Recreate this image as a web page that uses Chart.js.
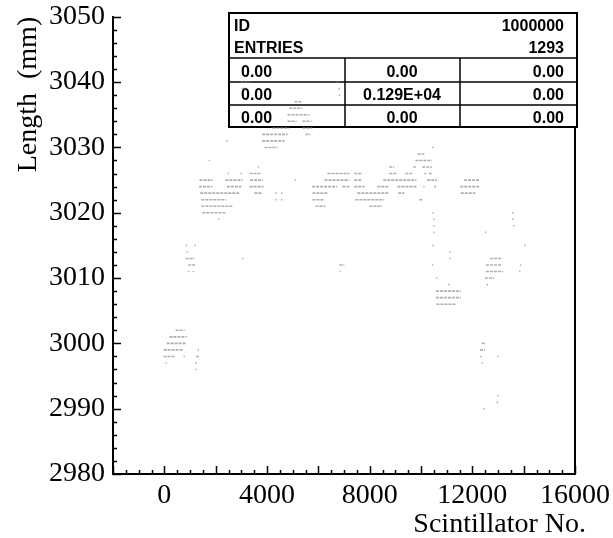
<!DOCTYPE html>
<html>
<head>
<meta charset="utf-8">
<script src="https://cdn.jsdelivr.net/npm/chart.js@4"></script>
<style>
  body { margin: 0; background: #fff; }
  #wrap { width: 613px; height: 538px; }
</style>
</head>
<body>
<div id="wrap"><canvas id="lengthChart" width="613" height="538"></canvas></div>
<script>
// each dash: [length (mm), scintillator from, scintillator to]
const upperDashes = [
  [3040, 2970, 3350], [3040, 6700, 6780],
  [3039, 3010, 3200], [3039, 6780, 6840],
  [3038, 6800, 6850],
  [3037, 5070, 5340],
  [3036, 4870, 5380],
  [3035, 4800, 5650],
  [3034, 4800, 5150], [3034, 5380, 5730],
  [3033, 4210, 4870], [3033, 5380, 5770],
  [3032, 3810, 4800], [3032, 5500, 5690],
  [3031, 2410, 2460], [3031, 3810, 4680],
  [3030, 3900, 4410], [3030, 10430, 10490],
  [3029, 9870, 10130],
  [3028, 1730, 1780], [3028, 9780, 10430],
  [3027, 3640, 3690], [3027, 8760, 8960], [3027, 9700, 9800], [3027, 10050, 10430]
];

const bandDashes = [
  [3026, 2470, 2520], [3026, 2970, 3020], [3026, 3320, 3770], [3026, 6350, 7210],
  [3026, 7400, 7710], [3026, 8760, 9080], [3026, 9390, 9650], [3026, 10130, 10200], [3026, 10300, 10430],
  [3025, 1370, 1890], [3025, 2380, 3050], [3025, 3340, 3840], [3025, 5070, 5120], [3025, 6240, 7210],
  [3025, 7400, 7710], [3025, 8530, 9820], [3025, 10240, 10620], [3025, 11680, 12290],
  [3024, 1350, 1870], [3024, 2440, 3000], [3024, 3320, 3860], [3024, 5760, 6740], [3024, 6940, 7210],
  [3024, 7400, 7800], [3024, 8300, 8760], [3024, 9080, 9860], [3024, 10090, 10140], [3024, 10520, 10590],
  [3024, 11530, 12310],
  [3023, 1400, 2930], [3023, 3510, 3820], [3023, 4330, 4380], [3023, 4550, 4600], [3023, 5770, 6350],
  [3023, 7520, 8760], [3023, 9110, 9350], [3023, 11550, 12110],
  [3022, 1440, 2410], [3022, 4330, 4380], [3022, 4550, 4600], [3022, 5770, 6240], [3022, 7440, 8570],
  [3022, 9930, 10060],
  [3021, 1440, 2650], [3021, 5890, 6280], [3021, 7990, 8490],
  [3020, 1480, 2390], [3020, 10440, 10490], [3020, 13550, 13610],
  [3019, 2090, 2140], [3019, 10480, 10530], [3019, 13550, 13610]
];

const leftDashes = [
  [3015, 830, 880], [3015, 1180, 1230],
  [3014, 870, 920],
  [3013, 830, 1180], [3013, 3030, 3080],
  [3012, 930, 1200], [3012, 6820, 7010],
  [3011, 920, 970], [3011, 1100, 1150], [3011, 6820, 6870],
  [3002, 440, 790],
  [3001, 200, 870],
  [3000, 90, 870],
  [2999, -30, 750], [2999, 1300, 1350],
  [2998, -30, 400], [2998, 750, 800], [2998, 1230, 1380],
  [2997, 50, 100], [2997, 1200, 1260],
  [2996, 1220, 1270]
];

const rightDashes = [
  [3018, 10480, 10530], [3018, 13590, 13640],
  [3017, 10480, 10530], [3017, 12490, 12540],
  [3015, 10440, 10490], [3015, 14020, 14070],
  [3014, 11100, 11150],
  [3013, 11100, 11150], [3013, 12690, 13170],
  [3012, 10430, 10480], [3012, 12530, 13160], [3012, 13850, 13900],
  [3011, 12530, 13200], [3011, 13820, 13870],
  [3010, 10590, 10640], [3010, 12490, 12850],
  [3009, 11060, 11110], [3009, 12560, 12610],
  [3008, 10580, 11550],
  [3007, 10580, 11550],
  [3006, 10600, 11360],
  [3000, 12370, 12530],
  [2999, 12300, 12490],
  [2998, 12290, 12360], [2998, 12970, 13020],
  [2997, 12360, 12410],
  [2992, 12970, 13020],
  [2991, 12950, 13000],
  [2990, 12430, 12480]
];

const xTickLabels = [0, 4000, 8000, 12000, 16000];
const yTickLabels = [2980, 2990, 3000, 3010, 3020, 3030, 3040, 3050];
const xTitle = "Scintillator No.";

const statsHeader = [["ID", "1000000"], ["ENTRIES", "1293"]];
const statsGrid = [
  ["0.00", "0.00", "0.00"],
  ["0.00", "0.129E+04", "0.00"],
  ["0.00", "0.00", "0.00"]
];

// turn dashes into line points with gaps between them
function toPoints(dashes) {
  const pts = [];
  dashes.forEach(d => {
    pts.push({ x: d[1], y: d[0] });
    pts.push({ x: d[2], y: d[0] });
    pts.push({ x: d[2], y: NaN });
  });
  return pts;
}

function dashSet(dashes) {
  return {
    data: toPoints(dashes),
    showLine: true,
    spanGaps: false,
    borderColor: "rgba(120,120,120,0.6)",
    borderWidth: 1.6,
    borderDash: [3, 1],
    pointRadius: 0,
    pointHoverRadius: 0
  };
}

const serif = "'Liberation Serif', 'Times New Roman', serif";

// PAW-like frame: ticks inside the plot, right border, stats box
const pawFrame = {
  id: "pawFrame",
  beforeDatasetsDraw(chart) {
    const ctx = chart.ctx;
    ctx.save();
    ctx.fillStyle = "#fff";
    ctx.fillRect(229, 13, 348, 114);
    ctx.strokeStyle = "#000";
    ctx.lineWidth = 2;
    ctx.strokeRect(229, 13, 348, 114);
    ctx.lineWidth = 1.5;
    [58, 82, 105].forEach(yy => {
      ctx.beginPath(); ctx.moveTo(229, yy); ctx.lineTo(577, yy); ctx.stroke();
    });
    [345, 460].forEach(xx => {
      ctx.beginPath(); ctx.moveTo(xx, 58); ctx.lineTo(xx, 127); ctx.stroke();
    });
    ctx.fillStyle = "#000";
    ctx.font = "bold 16px 'Liberation Sans', Arial, sans-serif";
    ctx.textBaseline = "alphabetic";
    statsHeader.forEach((row, i) => {
      const base = 31 + i * 22;
      ctx.textAlign = "left";
      ctx.fillText(row[0], 234, base);
      ctx.textAlign = "right";
      ctx.fillText(row[1], 564, base);
    });
    statsGrid.forEach((row, i) => {
      const base = 77 + i * 23;
      ctx.textAlign = "left";
      ctx.fillText(row[0], 241, base);
      ctx.textAlign = "center";
      ctx.fillText(row[1], 402, base);
      ctx.textAlign = "right";
      ctx.fillText(row[2], 564, base);
    });
    ctx.restore();
  },
  afterDraw(chart) {
    const { ctx, chartArea: a, scales } = chart;
    ctx.save();
    ctx.strokeStyle = "#000";
    ctx.lineWidth = 1.5;
    for (let v = 2980; v <= 3050; v += 2) {
      const py = Math.round(scales.y.getPixelForValue(v)) + 0.5;
      const len = v % 10 === 0 ? 8 : 4;
      ctx.beginPath(); ctx.moveTo(a.left, py); ctx.lineTo(a.left + len, py); ctx.stroke();
    }
    for (let v = -2000; v <= 16000; v += 500) {
      const px = Math.round(scales.x.getPixelForValue(v)) + 0.5;
      const len = v % 2000 === 0 ? 8 : 4;
      ctx.beginPath(); ctx.moveTo(px, a.bottom); ctx.lineTo(px, a.bottom - len); ctx.stroke();
    }
    ctx.lineWidth = 2;
    ctx.beginPath(); ctx.moveTo(a.right, 127); ctx.lineTo(a.right, a.bottom); ctx.stroke();
    // x axis title, right-aligned a little past the axis end as in the original
    ctx.fillStyle = "#000";
    ctx.font = "28px " + serif;
    ctx.textAlign = "right";
    ctx.textBaseline = "alphabetic";
    ctx.fillText(xTitle, a.right + 11, 532);
    ctx.restore();
  }
};

new Chart(document.getElementById("lengthChart"), {
  type: "scatter",
  data: {
    datasets: [dashSet(upperDashes), dashSet(bandDashes), dashSet(leftDashes), dashSet(rightDashes)]
  },
  options: {
    responsive: false,
    animation: false,
    events: [],
    layout: { padding: { top: 14, right: 38, left: 0, bottom: 0 } },
    plugins: { legend: { display: false }, tooltip: { enabled: false } },
    scales: {
      x: {
        type: "linear",
        min: -2000,
        max: 16000,
        afterBuildTicks: s => { s.ticks = xTickLabels.map(v => ({ value: v })); },
        afterFit: s => { s.height = 64; },
        grid: { display: false },
        border: { display: true, color: "#000", width: 2 },
        ticks: {
          color: "#000", font: { family: serif, size: 28 }, padding: -3, maxRotation: 0,
          callback: v => String(v)
        },
        title: { display: false }
      },
      y: {
        type: "linear",
        min: 2980,
        max: 3050,
        afterBuildTicks: s => { s.ticks = yTickLabels.map(v => ({ value: v })); },
        afterFit: s => { s.width = 113; },
        grid: { display: false },
        border: { display: true, color: "#000", width: 2 },
        ticks: {
          color: "#000", font: { family: serif, size: 28 }, padding: 0,
          callback: v => String(v)
        },
        title: {
          display: true, text: "Length  (mm)", align: "end", color: "#000",
          font: { family: serif, size: 28 }, padding: 12
        }
      }
    }
  },
  plugins: [pawFrame]
});
</script>
</body>
</html>
